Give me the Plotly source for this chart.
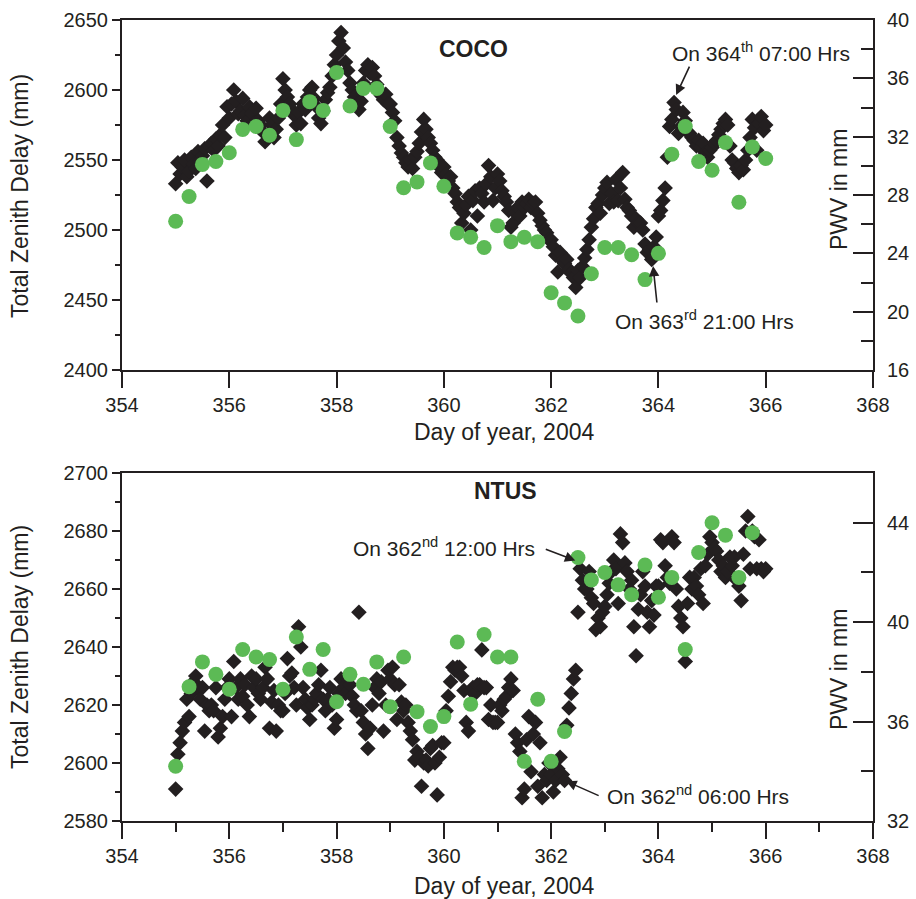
import plotly.graph_objects as go

# ---------------- data ----------------
# Hourly Total Zenith Delay (mm), day 355 00:00 .. day 366 00:00
COCO_ZTD = [
    # 355
    2533, 2548, 2540, 2545, 2550, 2538, 2542, 2552, 2547, 2544, 2556, 2550,
    2553, 2558, 2535, 2560, 2562, 2557, 2565, 2560, 2568, 2575, 2566, 2588,
    # 356
    2580, 2590, 2600, 2592, 2583, 2585, 2594, 2582, 2578, 2588, 2583, 2576,
    2587, 2578, 2575, 2570, 2563, 2568, 2580, 2575, 2566, 2572, 2580, 2590,
    # 357
    2608, 2600, 2595, 2590, 2586, 2582, 2575, 2584, 2576, 2590, 2586, 2595,
    2600, 2602, 2594, 2588, 2580, 2576, 2585, 2593, 2598, 2602, 2610, 2618,
    # 358
    2625, 2635, 2641, 2630, 2620, 2614, 2605, 2600, 2595, 2590, 2586, 2592,
    2605, 2614, 2618, 2612, 2616, 2610, 2604, 2600, 2596, 2593, 2597, 2590,
    # 359
    2590, 2584, 2578, 2566, 2560, 2555, 2552, 2548, 2545, 2550, 2544, 2552,
    2556, 2562, 2570, 2579, 2572, 2566, 2562, 2557, 2552, 2550, 2545, 2541,
    # 360
    2545, 2540, 2535, 2538, 2530, 2526, 2520, 2516, 2505, 2512, 2518, 2524,
    2500, 2521, 2528, 2510, 2530, 2526, 2520, 2533, 2546, 2538, 2521, 2530,
    # 361
    2540, 2535, 2528, 2524, 2520, 2514, 2502, 2505, 2512, 2516, 2510, 2520,
    2516, 2519, 2522, 2516, 2519, 2520, 2512, 2507, 2503, 2500, 2498, 2493,
    # 362
    2493, 2488, 2482, 2470, 2484, 2478, 2476, 2479, 2472, 2469, 2466, 2459,
    2471, 2466, 2474, 2480, 2486, 2493, 2502, 2508, 2516, 2519, 2512, 2525,
    # 363
    2530, 2534, 2519, 2526, 2520, 2536, 2521, 2530, 2541, 2522, 2516, 2514,
    2510, 2502, 2508, 2505, 2505, 2500, 2490, 2484, 2486, 2479, 2488, 2495,
    # 364
    2510, 2514, 2521, 2530, 2552, 2574, 2579, 2591, 2586, 2569, 2574, 2584,
    2578, 2570, 2569, 2566, 2564, 2560, 2564, 2559, 2562, 2555, 2552, 2557,
    # 365
    2559, 2562, 2564, 2568, 2572, 2576, 2579, 2575, 2560, 2550, 2548, 2544,
    2541, 2546, 2543, 2550, 2557, 2566, 2579, 2573, 2557, 2576, 2581, 2571,
    # 366
    2575,
]

NTUS_ZTD = [
    # 355
    2591, 2603, 2607, 2611, 2614, 2622, 2616, 2624, 2628, 2630, 2626, 2622,
    2626, 2611, 2620, 2618, 2620, 2618, 2626, 2609, 2612, 2616, 2622, 2626,
    # 356
    2629, 2616, 2635, 2626, 2622, 2629, 2623, 2627, 2620, 2616, 2630, 2626,
    2629, 2624, 2622, 2626, 2633, 2629, 2612, 2621, 2625, 2611, 2620, 2618,
    # 357
    2618, 2624, 2636, 2630, 2631, 2626, 2620, 2647, 2640, 2626, 2622, 2619,
    2615, 2620, 2622, 2624, 2627, 2632, 2622, 2618, 2622, 2626, 2620, 2612,
    # 358
    2615, 2624, 2629, 2626, 2624, 2629, 2627, 2623, 2620, 2618, 2652, 2618,
    2614, 2610, 2605, 2612, 2620, 2626, 2629, 2624, 2628, 2611, 2620, 2632,
    # 359
    2629, 2633, 2627, 2615, 2627, 2621, 2618, 2620, 2614, 2611, 2608, 2601,
    2604, 2602, 2592, 2600, 2601, 2599, 2605, 2606, 2600, 2589, 2602, 2607,
    # 360
    2607, 2618, 2623, 2628, 2633, 2632, 2633, 2633, 2630, 2625, 2614, 2611,
    2625, 2626, 2624, 2627, 2627, 2639, 2626, 2626, 2615, 2620, 2614, 2614,
    # 361
    2614, 2620, 2618, 2622, 2623, 2626, 2629, 2625, 2610, 2607, 2604, 2588,
    2591, 2608, 2616, 2597, 2610, 2614, 2592, 2607, 2588, 2596, 2594, 2600,
    # 362
    2596, 2590, 2594, 2598, 2602, 2596, 2594, 2613, 2619, 2624, 2629, 2632,
    2652, 2667, 2663, 2660, 2660, 2666, 2657, 2655, 2646, 2650, 2647, 2652,
    # 363
    2654, 2658, 2662, 2666, 2670, 2667, 2655, 2679, 2676, 2669, 2666, 2660,
    2663, 2647, 2637, 2653, 2658, 2666, 2661, 2652, 2647, 2656, 2651, 2661,
    # 364
    2661, 2677, 2676, 2668, 2664, 2662, 2678, 2676, 2660, 2654, 2650, 2647,
    2635, 2655, 2664, 2660, 2664, 2661, 2658, 2667, 2655, 2668, 2672, 2678,
    # 365
    2676, 2674, 2673, 2670, 2666, 2668, 2664, 2666, 2671, 2668, 2671, 2663,
    2661, 2656, 2672, 2680, 2685, 2667, 2680, 2678, 2667, 2677, 2667, 2666,
    # 366
    2667,
]

# 6-hourly precipitable water vapour (mm), starting day 355 00:00
COCO_PWV = [26.2, 27.9, 30.1, 30.3, 30.9, 32.5, 32.7, 32.1, 33.8, 31.8, 34.4,
            33.8, 36.4, 34.1, 35.3, 35.3, 32.7, 28.5, 28.9, 30.2, 28.6, 25.4,
            25.1, 24.4, 25.9, 24.8, 25.1, 24.8, 21.3, 20.6, 19.7, 22.6, 24.4,
            24.4, 23.9, 22.2, 24.0, 30.8, 32.7, 30.3, 29.7, 31.6, 27.5, 31.3,
            30.5]
NTUS_PWV = [34.2, 37.4, 38.4, 37.9, 37.3, 38.9, 38.6, 38.5, 37.3, 39.4, 38.1,
            38.9, 36.8, 37.9, 37.5, 38.4, 36.6, 38.6, 36.4, 35.8, 36.2, 39.2,
            36.7, 39.5, 38.6, 38.6, 34.4, 36.9, 34.4, 35.6, 42.6, 41.7, 42.0,
            41.5, 41.1, 42.3, 41.0, 41.8, 38.9, 42.8, 44.0, 43.5, 41.8, 43.6]

START_DAY = 355
X_TICKS = [354, 356, 358, 360, 362, 364, 366, 368]

coco_t = [START_DAY + i / 24 for i in range(len(COCO_ZTD))]
ntus_t = [START_DAY + i / 24 for i in range(len(NTUS_ZTD))]
coco_pt = [START_DAY + i / 4 for i in range(len(COCO_PWV))]
ntus_pt = [START_DAY + i / 4 for i in range(len(NTUS_PWV))]

# ---------------- style ----------------
DARK = "#231f20"
GREEN = "#5cba55"
FONT = "Liberation Sans, Arial, sans-serif"
W, H = 916, 899

def px(v):
    return v / W

def py(v):
    return 1 - v / H

XDOM = [px(122), px(873)]
TOP = [py(370), py(20)]
BOT = [py(821), py(473)]

fig = go.Figure()

dia = dict(symbol="diamond", size=12, color=DARK, line=dict(width=0))
cir = dict(symbol="circle", size=15, color=GREEN, line=dict(width=0))

fig.add_trace(go.Scatter(x=coco_t, y=COCO_ZTD, mode="markers", marker=dia,
                         xaxis="x", yaxis="y", showlegend=False))
fig.add_trace(go.Scatter(x=coco_pt, y=COCO_PWV, mode="markers", marker=cir,
                         xaxis="x", yaxis="y2", showlegend=False))
fig.add_trace(go.Scatter(x=ntus_t, y=NTUS_ZTD, mode="markers", marker=dia,
                         xaxis="x2", yaxis="y3", showlegend=False))
fig.add_trace(go.Scatter(x=ntus_pt, y=NTUS_PWV, mode="markers", marker=cir,
                         xaxis="x2", yaxis="y4", showlegend=False))

tickfont = dict(family=FONT, size=20, color=DARK)
base = dict(showline=True, linecolor=DARK, linewidth=2, showgrid=False,
            zeroline=False, tickfont=tickfont, tickcolor=DARK, tickwidth=2,
            automargin=False)

xcommon = dict(base, domain=XDOM, range=[354, 368], tickvals=X_TICKS,
               ticks="outside", ticklen=16, mirror=True)

fig.update_layout(
    width=W, height=H, autosize=False,
    margin=dict(l=0, r=0, t=0, b=0, pad=0, autoexpand=False),
    paper_bgcolor="white", plot_bgcolor="white",
    font=dict(family=FONT, color=DARK),
    xaxis=dict(xcommon, anchor="y"),
    xaxis2=dict(xcommon, anchor="y3",
                minor=dict(dtick=1, ticks="outside", ticklen=9,
                           tickcolor=DARK, tickwidth=2)),
    yaxis=dict(base, domain=TOP, range=[2400, 2650], dtick=50, anchor="x",
               ticks="outside", ticklen=8, mirror=True,
               minor=dict(dtick=25, ticks="outside", ticklen=5,
                          tickcolor=DARK, tickwidth=2)),
    yaxis2=dict(base, overlaying="y", side="right", anchor="x",
                range=[16, 40], tickvals=[16, 20, 24, 28, 32, 36, 40],
                ticks="inside", ticklen=20, ticklabelstandoff=8,
                minor=dict(dtick=2, ticks="inside", ticklen=12,
                           tickcolor=DARK, tickwidth=2)),
    yaxis3=dict(base, domain=BOT, range=[2580, 2700], dtick=20, anchor="x2",
                ticks="outside", ticklen=8, mirror=True,
                minor=dict(dtick=10, ticks="outside", ticklen=5,
                           tickcolor=DARK, tickwidth=2)),
    yaxis4=dict(base, overlaying="y3", side="right", anchor="x2",
                range=[32, 46], tickvals=[32, 36, 40, 44],
                ticks="inside", ticklen=20, ticklabelstandoff=8,
                minor=dict(dtick=2, ticks="inside", ticklen=12,
                           tickcolor=DARK, tickwidth=2)),
)

ann = []
TF = 23  # axis-title font size
mid = dict(xanchor="center", yanchor="middle", showarrow=False)
for ytop in (196, 647):
    ann.append(dict(mid, text="Total Zenith Delay (mm)", xref="paper",
                    yref="paper", x=px(20), y=py(ytop), textangle=-90,
                    font=dict(size=TF, family=FONT, color=DARK)))
for yy in (190, 670):
    ann.append(dict(mid, text="PWV in mm", xref="paper", yref="paper",
                    x=px(839), y=py(yy), textangle=-90,
                    font=dict(size=TF, family=FONT, color=DARK)))
for yy in (432, 886):
    ann.append(dict(mid, text="Day of year, 2004", xref="paper", yref="paper",
                    x=px(504), y=py(yy),
                    font=dict(size=TF, family=FONT, color=DARK)))

lab = dict(size=21, family=FONT, color=DARK)
ann += [
    dict(mid, text="<b>COCO</b>", xref="x", yref="y", x=360.55, y=2629,
         font=dict(size=23, family=FONT, color=DARK)),
    dict(mid, text="On 364<sup>th</sup> 07:00 Hrs", xref="x", yref="y",
         x=365.91, y=2627, font=lab),
    dict(mid, text="On 363<sup>rd</sup> 21:00 Hrs", xref="x", yref="y",
         x=364.85, y=2436, font=lab),
    dict(mid, text="<b>NTUS</b>", xref="x2", yref="y3", x=361.14, y=2693.8,
         font=dict(size=23, family=FONT, color=DARK)),
    dict(mid, text="On 362<sup>nd</sup> 12:00 Hrs", xref="x2", yref="y3",
         x=360.0, y=2674.6, font=lab),
    dict(mid, text="On 362<sup>nd</sup> 06:00 Hrs", xref="x2", yref="y3",
         x=364.73, y=2588.9, font=lab),
]

arrow = dict(text="", showarrow=True, arrowhead=2, arrowsize=1.3,
             arrowwidth=1.6, arrowcolor=DARK, font=dict(size=1))
ann += [
    dict(arrow, xref="x", yref="y", x=364.33, y=2596.4, ax=14, ay=-30),
    dict(arrow, xref="x", yref="y", x=363.9, y=2474.3, ax=4, ay=38),
    dict(arrow, xref="x2", yref="y3", x=362.45, y=2669.8, ax=-31, ay=-12),
    dict(arrow, xref="x2", yref="y3", x=362.28, y=2593.7, ax=34, ay=15),
]
fig.update_layout(annotations=ann)

fig.write_html(
    "out.html",
    config={"displayModeBar": False},
    post_script="document.body.style.margin='0';document.body.style.padding='0';",
)
